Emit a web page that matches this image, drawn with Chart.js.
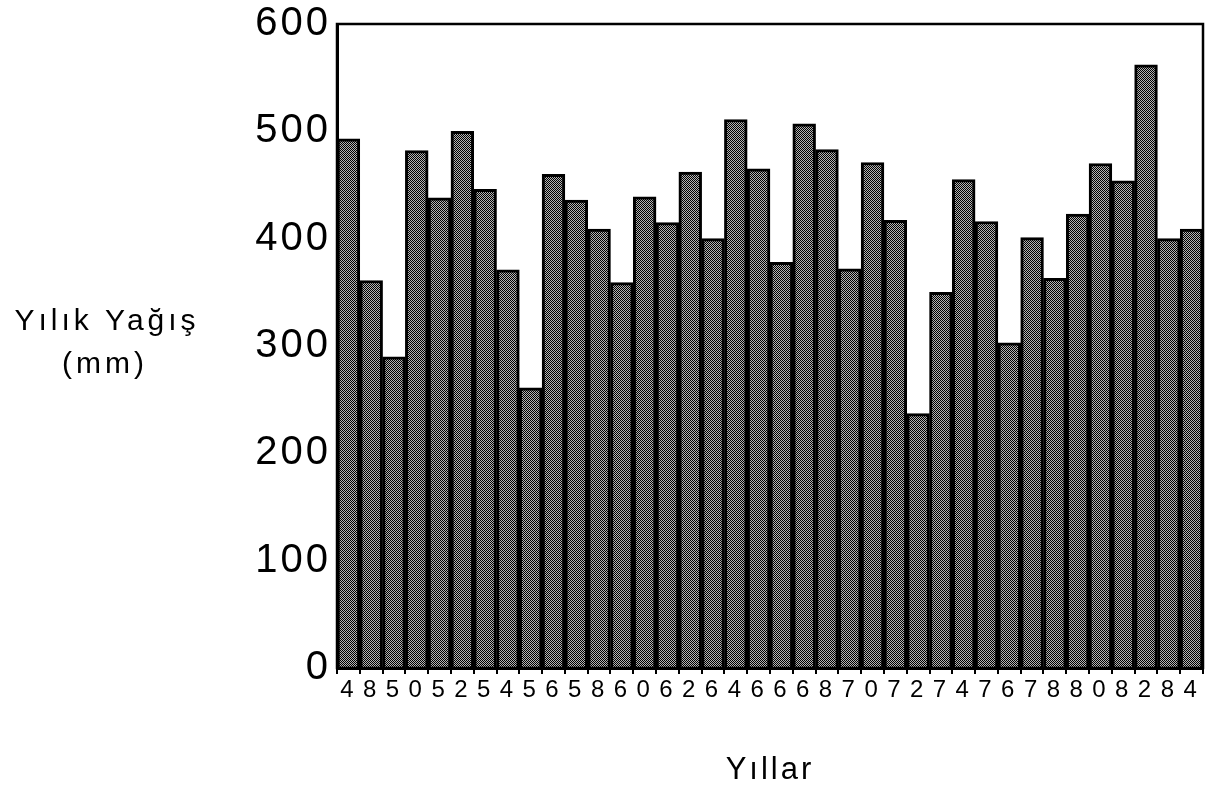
<!DOCTYPE html>
<html>
<head>
<meta charset="utf-8">
<style>
  html, body { margin: 0; padding: 0; background: #fff; }
  #wrap { width: 1205px; height: 796px; }
</style>
</head>
<body>
<div id="wrap">
    <canvas id="rainChart" width="1205" height="796"></canvas>
</div>

<script src="https://cdn.jsdelivr.net/npm/chart.js"></script>

<script>
    // one digit under each bar: the years 48..84 written across pairs of bars
    const yearDigits = ['4','8','5','0','5','2','5','4','5','6','5','8','6','0','6','2','6','4','6','6',
                        '6','8','7','0','7','2','7','4','7','6','7','8','8','0','8','2','8','4'];
    // annual rainfall (mm), 1947 - 1984
    const rainfall = [493, 361, 290, 482, 438, 500, 446, 371, 261, 460,
                      436, 409, 359, 439, 415, 462, 400, 511, 465, 378,
                      507, 483, 372, 471, 417, 237, 350, 455, 416, 303,
                      401, 363, 423, 470, 454, 562, 400, 409];
    const yTicks = [0, 100, 200, 300, 400, 500, 600];
    const yTitle = ['Yılık Yağış', '(mm)'];
    const xTitle = 'Yıllar';

    const fontFamily = '"Liberation Sans", Arial, Helvetica, sans-serif';

    // dotted grey fill like the printed bars
    function dotPattern() {
        const c = document.createElement('canvas');
        c.width = 2;
        c.height = 2;
        const g = c.getContext('2d');
        g.fillStyle = '#b4b4b4';
        g.fillRect(0, 0, 2, 2);
        g.fillStyle = '#000';
        g.fillRect(0, 0, 1, 1);
        g.fillRect(1, 1, 1, 1);
        return g.createPattern(c, 'repeat');
    }

    const spacing = {
        id: 'spacing',
        beforeDraw(chart) {
            chart.ctx.letterSpacing = '3px';
        }
    };

    const frame = {
        id: 'frame',
        afterDatasetsDraw(chart) {
            const a = chart.chartArea;
            const ctx = chart.ctx;
            ctx.save();
            ctx.strokeStyle = '#000';
            ctx.lineWidth = 2.5;
            ctx.strokeRect(a.left, a.top, a.right - a.left, a.bottom - a.top);
            ctx.restore();
        }
    };

    const sideTitle = {
        id: 'sideTitle',
        afterDraw(chart) {
            const ctx = chart.ctx;
            ctx.save();
            ctx.fillStyle = '#000';
            ctx.font = '30px ' + fontFamily;
            ctx.letterSpacing = '4px';
            ctx.textAlign = 'center';
            ctx.textBaseline = 'middle';
            ctx.fillText(yTitle[0], 107, 322);
            ctx.fillText(yTitle[1], 105, 365);
            ctx.restore();
        }
    };

    const ctx = document.getElementById('rainChart');

    new Chart(ctx, {
        type: 'bar',
        data: {
            labels: yearDigits,
            datasets: [{
                data: rainfall,
                backgroundColor: dotPattern(),
                borderColor: '#000',
                borderWidth: 3,
                categoryPercentage: 1,
                barPercentage: 1
            }]
        },
        options: {
            responsive: false,
            animation: false,
            layout: { padding: { top: 0, right: 2, bottom: 0, left: 0 } },
            plugins: {
                legend: { display: false },
                tooltip: { enabled: false }
            },
            scales: {
                x: {
                    grid: {
                        display: true,
                        drawOnChartArea: false,
                        drawTicks: true,
                        tickLength: 6,
                        color: '#000',
                        lineWidth: 2
                    },
                    border: { display: true, color: '#000', width: 3 },
                    ticks: {
                        color: '#000',
                        font: { size: 24, family: fontFamily, lineHeight: 1 },
                        padding: 4,
                        maxRotation: 0,
                        autoSkip: false
                    },
                    title: {
                        display: true,
                        text: xTitle,
                        color: '#000',
                        font: { size: 31, family: fontFamily },
                        padding: { top: 4, bottom: 7 }
                    },
                    afterFit(scale) { scale.height = 128; }
                },
                y: {
                    min: 0,
                    max: 600,
                    afterBuildTicks(scale) {
                        scale.ticks = yTicks.map(v => ({ value: v }));
                    },
                    grid: { display: true, drawOnChartArea: false, drawTicks: false, color: '#000' },
                    border: { display: true, color: '#000', width: 3 },
                    ticks: {
                        color: '#000',
                        font: { size: 40, family: fontFamily, lineHeight: 0.9 },
                        padding: 6
                    },
                    afterFit(scale) { scale.width = 337; }
                }
            }
        },
        plugins: [spacing, frame, sideTitle]
    });
</script>
</body>
</html>
